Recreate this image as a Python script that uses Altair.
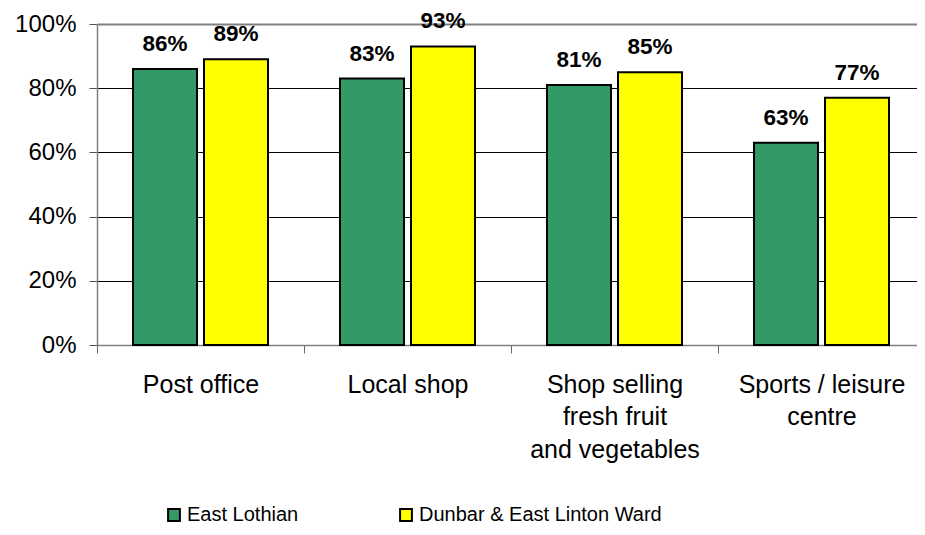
import altair as alt
import pandas as pd

categories = ["Post office", "Local shop", "Shop selling|fresh fruit|and vegetables", "Sports / leisure|centre"]
series = ["East Lothian", "Dunbar & East Linton Ward"]
east_lothian = [0.86, 0.83, 0.81, 0.63]
dunbar = [0.89, 0.93, 0.85, 0.77]
colors = ["#339966", "#FFFF00"]

rows = []
for c, a, b in zip(categories, east_lothian, dunbar):
    rows.append({"category": c, "series": series[0], "value": a})
    rows.append({"category": c, "series": series[1], "value": b})
df = pd.DataFrame(rows)

FONT = "Liberation Sans"

x = alt.X("category:N", sort=categories, title=None,
          scale=alt.Scale(paddingInner=0, paddingOuter=0, range=[0, 828]),
          axis=alt.Axis(labelAngle=0, labelExpr="split(datum.label, '|')",
                        labelFontSize=25, labelFont=FONT, labelColor="black",
                        labelLineHeight=32.5, labelPadding=19, tickBand="extent",
                        tickSize=8, tickColor="#666666", domain=True,
                        domainColor="#808080", domainWidth=1.5,
                        labelBaseline="top", labelLimit=300))
xo = alt.XOffset("series:N", sort=series,
                 scale=alt.Scale(paddingInner=0.0986, paddingOuter=0.507))
y = alt.Y("value:Q", title=None,
          scale=alt.Scale(domain=[0, 1]),
          axis=alt.Axis(values=[0, 0.2, 0.4, 0.6, 0.8, 1.0], format=".0%",
                        labelFontSize=24, labelFont=FONT, labelColor="black",
                        labelPadding=13, tickSize=8, tickColor="#555555",
                        domainColor="#808080", domainWidth=1.5,
                        gridColor={"condition": {"test": "datum.value === 1 || datum.value === 0",
                                                 "value": "#808080"}, "value": "#000000"},
                        gridWidth={"condition": {"test": "datum.value === 1", "value": 2},
                                   "value": 1}))

bars = alt.Chart(df).mark_bar(stroke="black", strokeWidth=2).encode(
    x=x, xOffset=xo, y=y,
    color=alt.Color("series:N", sort=series,
                    scale=alt.Scale(domain=series, range=colors),
                    legend=alt.Legend(title=None, orient="none", direction="horizontal",
                                      legendX=67, legendY=481,
                                      labelFontSize=20, labelFont=FONT, labelColor="black",
                                      symbolType="square", symbolSize=140,
                                      symbolStrokeColor="black", symbolStrokeWidth=2,
                                      columnPadding=97, labelOffset=3, padding=0,
                                      labelLimit=400)),
)

labels = alt.Chart(df).mark_text(fontSize=22.5, fontWeight="bold", font=FONT,
                                 baseline="alphabetic", dy=-18, color="black").encode(
    x=x, xOffset=xo, y=y,
    text=alt.Text("value:Q", format=".0%"),
)

chart = (bars + labels).properties(
    width=820, height=321,
    autosize=alt.AutoSizeParams(type="none"),
    padding={"left": 89, "top": 16, "right": 0, "bottom": 182},
).configure_view(stroke="transparent").configure(background="white")

chart.save("out.html", embed_options={"renderer": "svg", "actions": False})
